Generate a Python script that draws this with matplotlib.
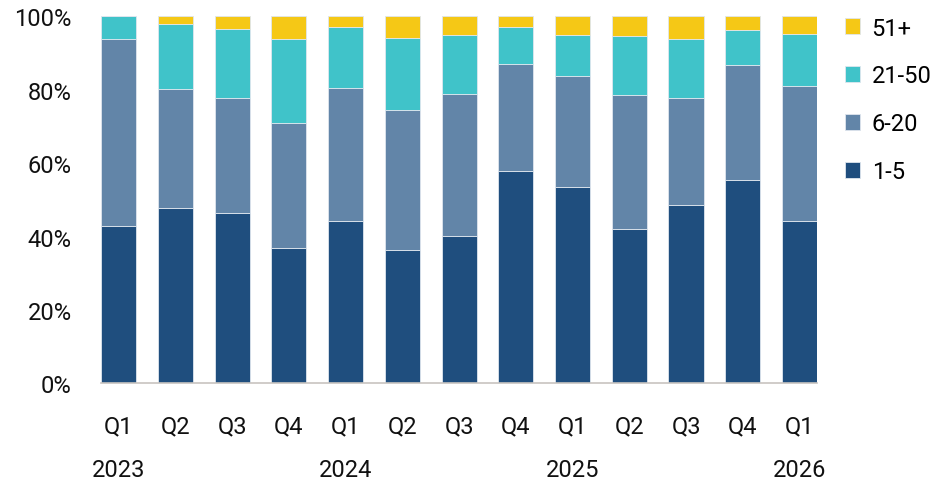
import matplotlib.pyplot as plt
import matplotlib.transforms as mtransforms
import numpy as np

plt.rcParams['font.family'] = ['Roboto', 'DejaVu Sans']

# quarterly share of firms by size band (%)
quarters = ["Q1", "Q2", "Q3", "Q4", "Q1", "Q2", "Q3", "Q4", "Q1", "Q2", "Q3", "Q4", "Q1"]
years = {0: "2023", 4: "2024", 8: "2025", 12: "2026"}
size_1_5 = [43.0, 47.9, 46.5, 37.0, 44.2, 36.4, 40.1, 57.9, 53.4, 42.1, 48.7, 55.5, 44.2]
size_6_20 = [50.8, 32.2, 31.2, 33.9, 36.4, 38.1, 38.8, 29.0, 30.4, 36.4, 29.0, 31.2, 36.7]
size_21_50 = [6.2, 17.7, 18.9, 22.9, 16.5, 19.7, 16.1, 10.2, 11.2, 16.2, 16.2, 9.6, 14.3]
size_51_plus = [0.0, 2.2, 3.4, 6.2, 2.9, 5.8, 5.0, 2.9, 5.0, 5.3, 6.1, 3.7, 4.8]

series = [
    ("1-5", size_1_5, "#1f4e7e"),
    ("6-20", size_6_20, "#6285a8"),
    ("21-50", size_21_50, "#40c3c9"),
    ("51+", size_51_plus, "#f5c816"),
]

fs = 17
fig = plt.figure(figsize=(9.46, 4.85), dpi=100)
ax = fig.add_axes([0.1068, 0.2076, 0.757, 0.7567])

x = np.arange(len(quarters))
width = 0.62
bottom = np.zeros(len(quarters))
handles = []
for name, vals, color in series:
    vals = np.array(vals)
    b = ax.bar(x, vals, width, bottom=bottom, color=color, label=name,
               edgecolor="#dfe6ee", linewidth=0.6)
    handles.append(b)
    bottom += vals

ax.set_xlim(-width / 2, len(quarters) - 1 + width / 2)
ax.set_ylim(0, 100)
ax.set_yticks(np.arange(0, 101, 20))
ax.set_yticklabels([f"{v}%" for v in range(0, 101, 20)])
ax.set_xticks(x)
ax.set_xticklabels(quarters)
ax.tick_params(axis="both", length=0, labelsize=fs, colors="#111111")
ax.tick_params(axis="y", pad=21)
ax.tick_params(axis="x", pad=22)

for side in ["top", "right", "left"]:
    ax.spines[side].set_visible(False)
ax.spines["bottom"].set_color("#c8c4c0")
ax.spines["bottom"].set_linewidth(1.2)

# year labels under the first quarter of each year
trans = mtransforms.blended_transform_factory(ax.transData, fig.transFigure)
for i, yr in years.items():
    ax.text(i, (485 - 471) / 485, yr, transform=trans, ha="center", va="center",
            fontsize=fs, color="#111111")

leg = ax.legend(handles[::-1], [s[0] for s in series][::-1],
                loc="upper left", bbox_to_anchor=(1.025, 1.025), frameon=False,
                fontsize=fs, handlelength=0.65, handleheight=0.65,
                handletextpad=0.5, labelspacing=1.05, borderaxespad=0)

fig.savefig("out.png", dpi=100)
